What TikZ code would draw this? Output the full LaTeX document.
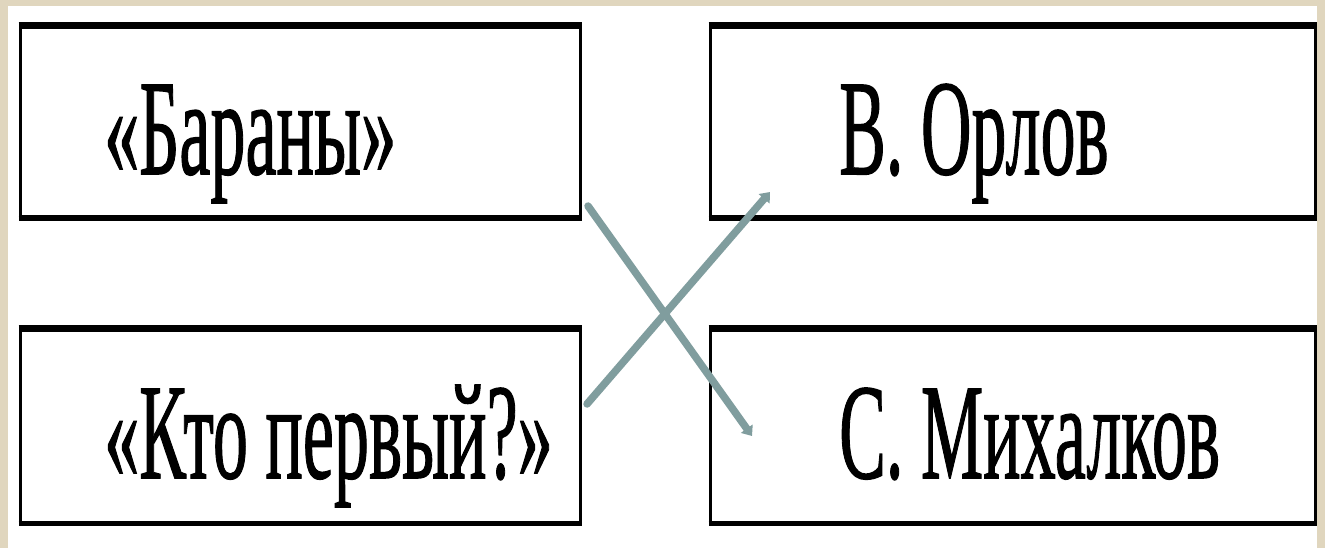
\documentclass[tikz,border=0pt]{standalone}
\usepackage{fontspec}
\setmainfont{Liberation Serif}
\newfontfamily\heavy[FakeBold=1.2]{Liberation Serif}
\usetikzlibrary{arrows.meta}
\definecolor{beige}{RGB}{224,214,190}
\definecolor{arrc}{RGB}{128,157,158}
\tikzset{
  box/.style={draw=black, line width=3pt, rectangle, minimum height=190pt, inner sep=0pt},
  lbl/.style={anchor=base west, inner sep=0pt, font=\heavy\fontsize{136}{136}\selectfont},
  arr/.style={draw=arrc, line width=7.5pt, line cap=round, -{Triangle[width=14pt,length=9pt]}}
}
\newcommand{\sq}[1]{\scalebox{0.515}[1]{#1}}
\begin{document}
\begin{tikzpicture}[x=1pt,y=-1pt]
\useasboundingbox (0,0) rectangle (1325,548);
\fill[beige] (0,0) rectangle (1325,548);
\fill[white] (8,6) rectangle (1317,548);
\node[box, minimum width=560pt] (b1) at (300,122) {};
\node[box, minimum width=560pt, minimum height=192pt] (b2) at (300,426) {};
\node[box, minimum width=605pt] (b3) at (1012.5,122) {};
\node[box, minimum width=605pt, minimum height=192pt] (b4) at (1012.5,426) {};
\foreach \b in {b1,b2,b3,b4}{
  \draw[line width=7pt] (\b.north west) -- (\b.north east);
  \draw[line width=5pt] (\b.south west) -- (\b.south east);
}
\node[lbl] (t1) at (104,174) {\sq{«Бараны»}};
\node[lbl] (t2) at (104,478) {\sq{«Кто первый?»}};
\node[lbl] (t3) at (839,174) {\sq{В. Орлов}};
\node[lbl] (t4) at (839,478) {\sq{С. Михалков}};
\coordinate (s1) at (588,206);
\coordinate (e1) at (752,436);
\coordinate (s2) at (587,404);
\coordinate (e2) at (770,192);
\draw[arr] (s1) -- (e1);
\draw[arr] (s2) -- (e2);
\end{tikzpicture}
\end{document}
